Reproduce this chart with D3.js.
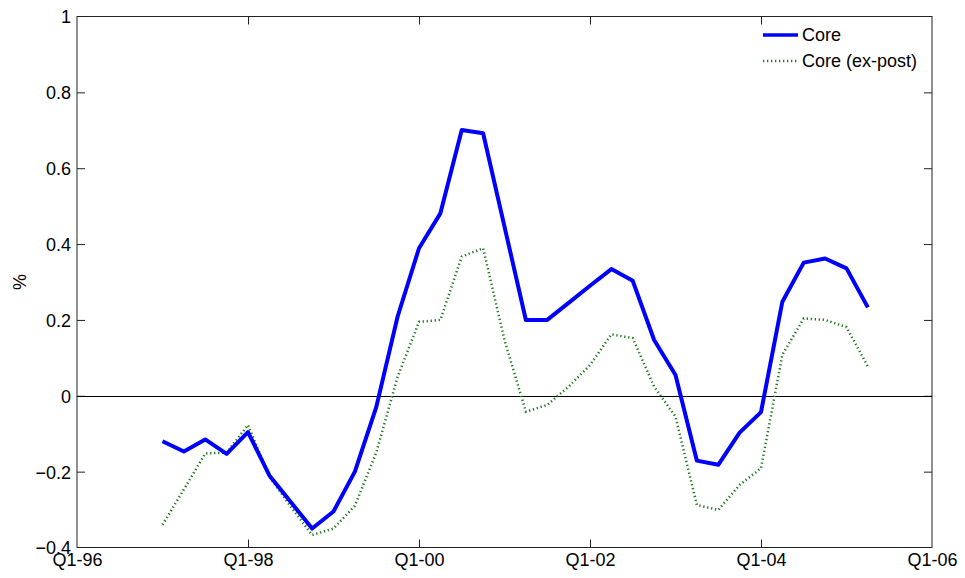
<!DOCTYPE html>
<html>
<head>
<meta charset="utf-8">
<script src="https://cdn.jsdelivr.net/npm/d3@7"></script>
<style>
  html, body { margin: 0; padding: 0; background: #fff; }
  svg { display: block; font-family: "Liberation Sans", Arial, sans-serif; }
</style>
</head>
<body>
<svg id="chart" width="965" height="578"></svg>
<script>
// Quarterly observations, Q1-97 .. Q2-05
const quarters = [
  "1997Q1","1997Q2","1997Q3","1997Q4",
  "1998Q1","1998Q2","1998Q3","1998Q4",
  "1999Q1","1999Q2","1999Q3","1999Q4",
  "2000Q1","2000Q2","2000Q3","2000Q4",
  "2001Q1","2001Q2","2001Q3","2001Q4",
  "2002Q1","2002Q2","2002Q3","2002Q4",
  "2003Q1","2003Q2","2003Q3","2003Q4",
  "2004Q1","2004Q2","2004Q3","2004Q4",
  "2005Q1","2005Q2"
];
const core = [
  -0.120, -0.147, -0.115, -0.153,
  -0.096, -0.210, -0.280, -0.350,
  -0.305, -0.200, -0.030,  0.209,
   0.389,  0.481,  0.701,  0.692,
   0.446,  0.200,  0.200,  0.245,
   0.290,  0.334,  0.303,  0.147,
   0.055, -0.171, -0.182, -0.097,
  -0.043,  0.248,  0.351,  0.362,
   0.336,  0.233
];
const coreExPost = [
  -0.340, -0.247, -0.152, -0.150,
  -0.077, -0.213, -0.292, -0.367,
  -0.350, -0.290, -0.150,  0.050,
   0.195,  0.200,  0.367,  0.389,
   0.147, -0.042, -0.024,  0.024,
   0.081,  0.162,  0.152,  0.024,
  -0.055, -0.288, -0.301, -0.235,
  -0.191,  0.108,  0.204,  0.200,
   0.181,  0.077
];
const xTickLabels = ["Q1-96","Q1-98","Q1-00","Q1-02","Q1-04","Q1-06"];
const yTicks = [-0.4, -0.2, 0, 0.2, 0.4, 0.6, 0.8, 1];
const seriesNames = ["Core", "Core (ex-post)"];

// quarter index counted from Q1-96
function qIndex(s) {
  return (+s.slice(0, 4) - 1996) * 4 + (+s.slice(5) - 1);
}
function tickIndex(label) {
  const yy = +label.slice(3);
  const year = yy < 50 ? 2000 + yy : 1900 + yy;
  return (year - 1996) * 4;
}

const svg = d3.select("#chart");
const L = 77, R = 932, T = 16.5, B = 547.5;

const x = d3.scaleLinear().domain([0, 40]).range([L, R]);
const y = d3.scaleLinear().domain([-0.4, 1]).range([B, T]);

const fontSize = 18;
const tickLen = 8;

// frame
svg.append("rect")
  .attr("x", L).attr("y", T).attr("width", R - L).attr("height", B - T)
  .attr("fill", "#fff").attr("stroke", "#222").attr("stroke-width", 1);

// y axis (left) with labels, ticks inward
const yAxisL = d3.axisLeft(y).tickValues(yTicks).tickSize(-tickLen).tickPadding(6)
  .tickFormat(d => d3.format("")(+d.toFixed(1)));
const gyl = svg.append("g").attr("transform", `translate(${L},0)`).call(yAxisL);
// y axis (right) ticks only
const gyr = svg.append("g").attr("transform", `translate(${R},0)`)
  .call(d3.axisRight(y).tickValues(yTicks).tickSize(-tickLen).tickFormat(""));

// x axis bottom with labels, ticks inward
const xTickVals = xTickLabels.map(tickIndex);
const gxb = svg.append("g").attr("transform", `translate(0,${B})`)
  .call(d3.axisBottom(x).tickValues(xTickVals).tickSize(-tickLen).tickPadding(6)
    .tickFormat((d, i) => xTickLabels[i]));
const gxt = svg.append("g").attr("transform", `translate(0,${T})`)
  .call(d3.axisTop(x).tickValues(xTickVals).tickSize(-tickLen).tickFormat(""));

[gyl, gyr, gxb, gxt].forEach(g => {
  g.select(".domain").remove();
  g.selectAll(".tick line").attr("stroke", "#222").attr("stroke-width", 1);
  g.selectAll(".tick text")
    .attr("fill", "#000")
    .style("font-size", fontSize + "px")
    .style("font-family", "'Liberation Sans', Arial, sans-serif");
});
// drop the ticks that sit on the frame's corners
gyl.selectAll(".tick line").filter(d => d === 1 || d === -0.4).remove();
gyr.selectAll(".tick line").filter(d => d === 1 || d === -0.4).remove();
gxb.selectAll(".tick line").filter(d => d === 0 || d === 40).remove();
gxt.selectAll(".tick line").filter(d => d === 0 || d === 40).remove();
gyl.selectAll(".tick text").attr("dy", "0.36em");
gxb.selectAll(".tick text").attr("dy", "0.71em");

// zero line
svg.append("line")
  .attr("x1", L).attr("x2", R)
  .attr("y1", Math.round(y(0)) + 0.5).attr("y2", Math.round(y(0)) + 0.5)
  .attr("stroke", "#000").attr("stroke-width", 1);

// y label
svg.append("text")
  .attr("transform", `translate(26,${(T + B) / 2}) rotate(-90)`)
  .attr("text-anchor", "middle")
  .style("font-size", fontSize + "px")
  .text("%");

const line = d3.line()
  .x((d, i) => x(qIndex(quarters[i])))
  .y(d => y(d));

svg.append("path")
  .datum(coreExPost)
  .attr("d", line)
  .attr("fill", "none")
  .attr("stroke", "#1e7a1e")
  .attr("stroke-width", 2.5)
  .attr("stroke-dasharray", "1.3,2.7");

svg.append("path")
  .datum(core)
  .attr("d", line)
  .attr("fill", "none")
  .attr("stroke", "#0000ff")
  .attr("stroke-width", 4)
  .attr("stroke-linejoin", "round");

// legend
const leg = svg.append("g");
const legRows = [
  { name: seriesNames[0], y: 35, stroke: "#0000ff", w: 3.5, dash: null },
  { name: seriesNames[1], y: 61, stroke: "#1e7a1e", w: 2.5, dash: "1.3,2.7" }
];
legRows.forEach(r => {
  leg.append("line")
    .attr("x1", 763).attr("x2", 798).attr("y1", r.y).attr("y2", r.y)
    .attr("stroke", r.stroke).attr("stroke-width", r.w)
    .attr("stroke-dasharray", r.dash);
  leg.append("text")
    .attr("x", 802).attr("y", r.y).attr("dy", "0.36em")
    .style("font-size", fontSize + "px")
    .text(r.name);
});
</script>
</body>
</html>
